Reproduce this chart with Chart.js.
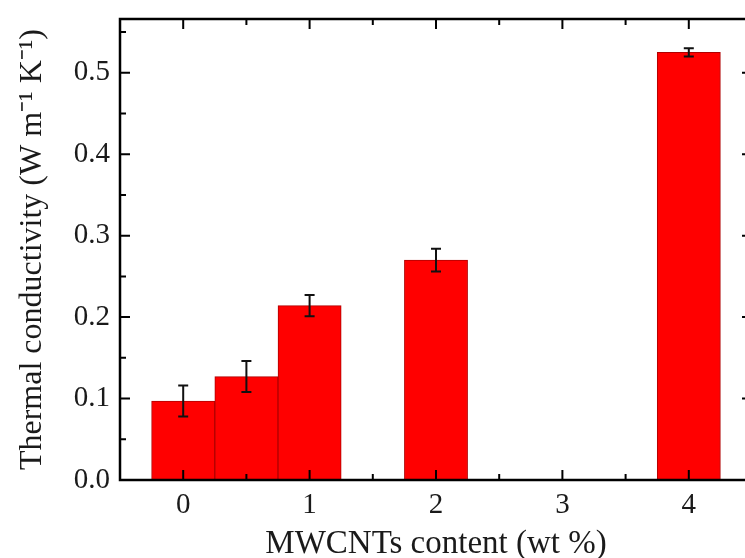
<!DOCTYPE html>
<html>
<head>
<meta charset="utf-8">
<script src="https://cdn.jsdelivr.net/npm/chart.js@4"></script>
<style>
  html, body { margin: 0; padding: 0; background: #ffffff; overflow: hidden; }
  #wrap { width: 770px; height: 558px; }
</style>
</head>
<body>
<div id="wrap"><canvas id="c" width="770" height="558"></canvas></div>
<script>
// ---- data ----
const contents = [0, 0.5, 1, 2, 4];              // MWCNTs content (wt %)
const conductivity = [0.097, 0.127, 0.214, 0.270, 0.525]; // W m-1 K-1
const errors = [0.019, 0.019, 0.013, 0.014, 0.005];
const xTickValues = [0, 1, 2, 3, 4];
const yTickValues = [0, 0.1, 0.2, 0.3, 0.4, 0.5];

const SERIF = '"Liberation Serif", "Times New Roman", serif';

const points = contents.map((x, i) => ({ x: x, y: conductivity[i] }));

const frameAndTicks = {
  id: 'frameAndTicks',
  afterDatasetsDraw(chart) {
    const { ctx, chartArea: a, scales } = chart;
    const xs = scales.x, ys = scales.y;
    // error bars
    const meta = chart.getDatasetMeta(0);
    ctx.save();
    ctx.strokeStyle = '#111';
    ctx.lineWidth = 2;
    meta.data.forEach((bar, i) => {
      const yt = ys.getPixelForValue(conductivity[i] + errors[i]);
      const yb = ys.getPixelForValue(conductivity[i] - errors[i]);
      const cx = bar.x;
      ctx.beginPath();
      ctx.moveTo(cx, yt); ctx.lineTo(cx, yb);
      ctx.moveTo(cx - 5, yt); ctx.lineTo(cx + 5, yt);
      ctx.moveTo(cx - 5, yb); ctx.lineTo(cx + 5, yb);
      ctx.stroke();
    });
    // inward ticks on all four sides
    ctx.strokeStyle = '#000';
    ctx.lineWidth = 2;
    ctx.beginPath();
    for (let v = xs.min; v <= xs.max + 1e-9; v += 0.5) {
      const px = xs.getPixelForValue(v);
      const major = Math.abs(v - Math.round(v)) < 1e-9;
      const len = major ? 10 : 6;
      ctx.moveTo(px, a.bottom); ctx.lineTo(px, a.bottom - len);
      ctx.moveTo(px, a.top); ctx.lineTo(px, a.top + len);
    }
    for (let k = 0; k * 0.05 <= ys.max + 1e-9; k++) {
      const v = k * 0.05;
      const py = ys.getPixelForValue(v);
      const len = (k % 2 === 0) ? 10 : 6;
      ctx.moveTo(a.left, py); ctx.lineTo(a.left + len, py);
      ctx.moveTo(a.right, py); ctx.lineTo(a.right - len, py);
    }
    ctx.stroke();
    // frame
    ctx.lineWidth = 2.5;
    ctx.strokeRect(a.left, a.top, a.right - a.left, a.bottom - a.top);
    ctx.restore();
  }
};

new Chart(document.getElementById('c'), {
  type: 'bar',
  data: {
    datasets: [{
      label: 'Thermal conductivity',
      data: points,
      backgroundColor: '#ff0000',
      borderColor: '#b00000',
      borderWidth: 1,
      barPercentage: 1,
      categoryPercentage: 1
    }]
  },
  options: {
    responsive: false,
    animation: false,
    devicePixelRatio: 1,
    layout: { padding: { top: 19, right: 18, left: 0, bottom: 0 } },
    plugins: { legend: { display: false }, tooltip: { enabled: false } },
    scales: {
      x: {
        type: 'linear',
        offset: false,
        min: -0.5,
        max: 4.5,
        grid: { display: false, drawTicks: false },
        border: { display: false },
        afterBuildTicks: s => { s.ticks = xTickValues.map(v => ({ value: v })); },
        afterFit: s => { s.height = 78; s.paddingLeft = 0; s.paddingRight = 0; },
        ticks: {
          padding: 8,
          color: '#1a1a1a',
          font: { family: SERIF, size: 29 },
          callback: v => String(v)
        },
        title: {
          display: true,
          text: 'MWCNTs content (wt %)',
          color: '#1a1a1a',
          font: { family: SERIF, size: 33 },
          padding: { top: 0, bottom: -6 }
        }
      },
      y: {
        min: 0,
        max: 0.566,
        grid: { display: false, drawTicks: false },
        border: { display: false },
        afterBuildTicks: s => { s.ticks = yTickValues.map(v => ({ value: v })); },
        afterFit: s => { s.width = 120; s.paddingTop = 0; s.paddingBottom = 0; },
        ticks: {
          padding: 10,
          color: '#1a1a1a',
          font: { family: SERIF, size: 29 },
          callback: v => Number(v).toFixed(1)
        },
        title: {
          display: true,
          text: 'Thermal conductivity (W m\u207B\u00B9 K\u207B\u00B9)',
          color: '#1a1a1a',
          font: { family: SERIF, size: 32 },
          padding: { top: 13, bottom: 0 }
        }
      }
    }
  },
  plugins: [frameAndTicks]
});
</script>
</body>
</html>
